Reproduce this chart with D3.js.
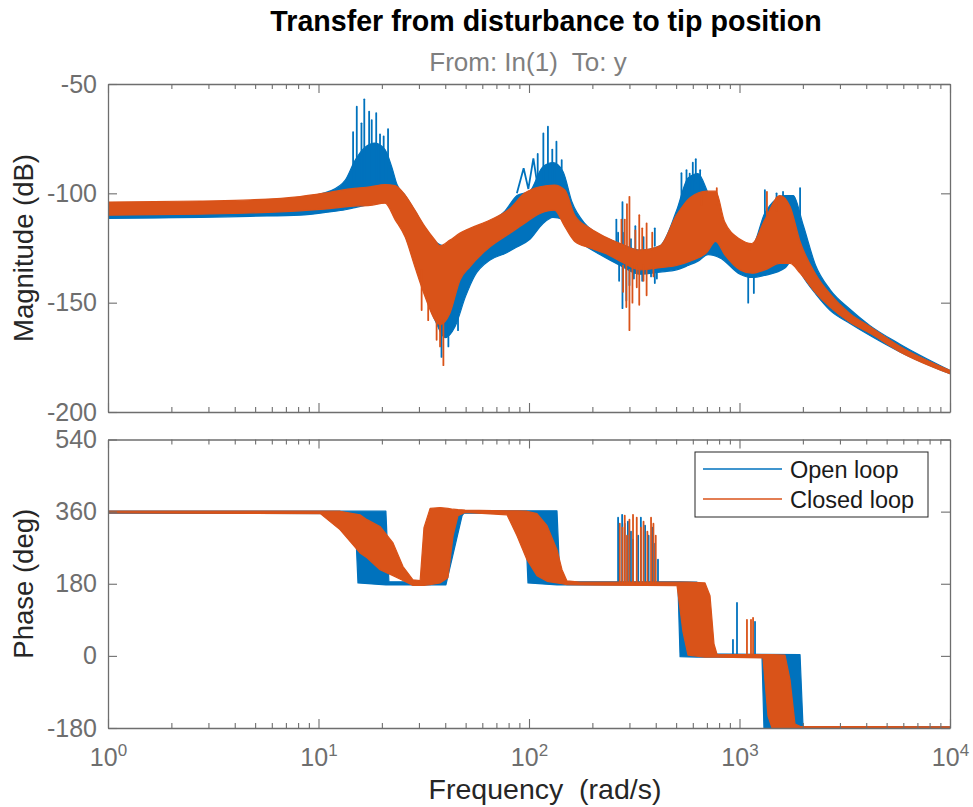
<!DOCTYPE html>
<html><head><meta charset="utf-8">
<script src="https://cdn.jsdelivr.net/npm/d3@7"></script>
<style>
html,body{margin:0;padding:0;background:#fff;}
svg{display:block;font-family:"Liberation Sans",Arial,Helvetica,sans-serif;}
</style></head>
<body>
<svg id="chart" width="973" height="807"></svg>
<script>
// ---------------- DATA ----------------
const titleText = "Transfer from disturbance to tip position";
const subtitleText = "From: In(1)  To: y";
const seriesNames = ["Open loop", "Closed loop"];
const xTickValues = [1, 10, 100, 1000, 10000];
const xTickExponents = ["0", "1", "2", "3", "4"];
const magTickValues = [-200, -150, -100, -50];
const phaseTickValues = [-180, 0, 180, 360, 540];

// Magnitude envelopes (rad/s, dB)
const openMagFreq  = [1,2.74,4.73,8.17,11.3,13.4,14.9,16.6,18.55,20.7,22.3,23.6,25.8,28.7,32.1,35.8,39.9,44.5,50,55,65.3,77,87.7,101,116,130,145,160,185,217,271,337,419,502,570,635,710,808,1006,1145,1320,1650,1800,2000,2300,2692,3350,4169,5787,10000];
const openMagUpper = [-105,-104.5,-104,-102,-99,-94,-85,-79,-77,-80,-88,-96,-101,-108,-116,-122,-124,-122,-119,-117,-113,-108,-101,-99,-88,-86,-90,-104,-114,-119,-123,-126,-124,-108,-93,-91,-100,-112,-122,-124,-109,-101,-101,-114,-133,-144,-153,-160.5,-169,-181];
const openMagLower = [-111.5,-111,-110.5,-110,-108.5,-107.5,-106.5,-105.5,-104.5,-104,-106,-110,-119,-132,-146,-158,-166,-161,-147,-138,-130.5,-127.5,-124.5,-121,-114,-111,-112,-119,-124,-128,-133,-137,-136,-135,-133,-131,-128,-129.5,-137,-138.5,-137.5,-134,-130,-138,-146,-153.5,-159.5,-165,-172.5,-182.5];

const closedMagFreq  = [1,2.74,4.73,8.17,11.3,14.1,17.6,20.7,23.1,25.8,28.7,32.1,35.8,37.8,42.1,47,52.4,65.3,81.2,95,112.8,132,148,165,195,231,271,337,419,502,582,700,770,850,1006,1145,1320,1557,1738,1939,2300,2692,3350,4169,5787,10000];
const closedMagUpper = [-104,-103.5,-103,-101.5,-99.5,-98,-97,-96,-96.5,-100.8,-107.7,-115.3,-121.4,-124,-121.4,-118.2,-116,-112.2,-106.9,-100,-97,-96.2,-98.5,-110,-116,-120,-123,-126,-124,-110,-102,-99,-99,-113,-121,-123,-112,-101,-106,-122,-137,-146,-155,-161,-170,-181];
const closedMagLower = [-110,-109.5,-109,-108,-107,-106,-105.5,-104.5,-112,-120,-133.6,-147.3,-158,-160,-154.8,-139.7,-133.6,-124.5,-118.3,-113.8,-109.2,-107.7,-115.3,-122,-125,-127.5,-131,-135,-134,-133,-131,-127,-122,-128,-135,-136.5,-135,-132,-132,-136.5,-145.5,-152,-159,-164,-172.5,-182.5];

// Lightly damped resonance bumps of the open loop (rad/s, dB)
const openBumpFreq = [87.6, 94.3, 99.3, 104.9, 110];
const openBumpMag  = [-100, -88.5, -98, -84, -97];

// Resonance / anti-resonance spikes: frequency, base dB, tip dB
const openMagSpikeFreq = [14.6,15.2,16.0,16.5,17.4,17.9,18.8,19.6,20.4,21.4, 110,117,123,129,135,143, 530,560,580,600,620,650, 1320,1500,1610,1940,
  260,265,278,283,305,320,350,396, 268,278,290,300,315,345,380,396,405, 1100,1170, 38.4,41.4,43.8,46];
const openMagSpikeBase = [-95,-95,-95,-95,-95,-95,-95,-95,-96,-97, -95,-95,-95,-95,-96,-97, -105,-100,-100,-100,-95,-98, -110,-105,-105,-110,
  -125,-125,-125,-126,-127,-126,-127,-124, -130,-130,-130,-130,-130,-130,-130,-128,-130, -133,-134, -160,-155,-150,-145];
const openMagSpikeTip  = [-72,-60.4,-68,-57,-62.7,-66.5,-63.3,-73,-74,-70.6, -82,-72.6,-69.5,-80,-76.4,-84.8, -90.8,-89.4,-91,-86,-84.4,-89.4, -98.5,-100,-99.3,-97.6,
  -112,-118,-104,-118,-121,-115,-120,-116, -140,-152.5,-149,-142,-139,-140,-138,-141,-139, -150,-145.6, -174.8,-170,-158,-162.6];

const closedMagSpikeFreq = [275,285,292,300,320,334,345,362,385, 280,290,300,310,325,334,350,362,390, 660,780,1120,1350,1500, 30.9,33.2,36.4,37.8,39.2];
const closedMagSpikeBase = [-125,-125,-125,-125,-126,-126,-126,-126,-126, -133,-133,-135,-132,-133,-135,-133,-135,-133, -105,-105,-126,-110,-108, -135,-145,-155,-158,-158];
const closedMagSpikeTip  = [-112,-112,-105,-101.6,-117,-110,-116,-113.8,-118, -145,-152,-162.6,-150,-143,-151,-140,-146.6,-138, -100.8,-97.6,-123.7,-99.3,-102, -153.4,-158,-167,-170,-178.6];

// Phase envelopes (rad/s, deg)
const openPhaseFreq  = [1,14.9,15.4,20.9,21.6,39.0,40.3,48.1,49.1,95.7,98.9,135.8,140.4,510,522,628,650,1279,1307,1939,2003,10000];
const openPhaseLower = [356,355,182,177,177,177,177,350,356,356,182,177,177,177,-2,-3,-3,-3,-182,-182,-183,-183];
const openPhaseUpper = [361,361,361,361,185,185,362,362,362,362,362,362,185,185,185,184,5,4,4,3,-176,-177];

const closedPhaseFreq  = [1,10.2,12.65,15.74,17.0,19.6,22.6,25.2,28.1,30.4,31.7,33.9,37.8,41.2,43.6,46.0,49.7,78.6,87.7,97.8,109.1,121.8,135.8,143.5,151.5,174.7,504.9,538.9,569.3,685.8,724.4,756.6,781.9,1293,1366,1427,1645,1738,1835,1939,10000];
const closedPhaseLower = [357,355,315,257,245,215,200,188,176,176,176,178,182,195,300,350,358,352,300,240,200,186,182,180,178,177,175,60,2,-3,-3,-3,-3,-5,-150,-180,-182,-182,-182,-183,-183];
const closedPhaseUpper = [361,361,361,352,340,323,282,223,190,188,320,368,370,368,366,365,364,362,362,361,355,325,265,215,187,184,184,184,184,182,150,30,4,3,3,3,2,-60,-170,-176,-177];

// Phase spikes: frequency, base deg, tip deg
const openPhaseSpikeFreq = [265,277,285,295,305,312,330,340,356,370,385,397,410, 931,973,1185];
const openPhaseSpikeBase = [180,180,180,180,180,180,180,180,180,180,180,180,180, 0,0,0];
const openPhaseSpikeTip  = [345,352,330,335,310,290,300,345,325,300,320,280,240, 40,132,85];
const closedPhaseSpikeFreq = [270,278,285,292,300,312,325,340,350,365,380,390,400, 1085,1134,1160];
const closedPhaseSpikeBase = [180,180,180,180,180,180,180,180,180,180,180,180,180, 0,0,0];
const closedPhaseSpikeTip  = [330,320,350,300,340,352,345,320,335,310,345,330,300, 90,90,95];

// ---------------- DRAWING ----------------
const colOpen = "#0072BD", colClosed = "#D95319";
const axisCol = "#6e6e6e", labelCol = "#262626";
const svg = d3.select("#chart");
const L = 108, R = 950;
const magTop = 84, magBot = 412, phTop = 439.5, phBot = 728;

const x = d3.scaleLog().domain([1, 1e4]).range([L, R]);
const yMag = d3.scaleLinear().domain([-200, -50]).range([magBot, magTop]);
const yPh = d3.scaleLinear().domain([-180, 540]).range([phBot, phTop]);

const defs = svg.append("defs");
defs.append("clipPath").attr("id", "clipMag").append("rect")
  .attr("x", L).attr("y", magTop).attr("width", R - L).attr("height", magBot - magTop);
defs.append("clipPath").attr("id", "clipPh").append("rect")
  .attr("x", L).attr("y", phTop).attr("width", R - L).attr("height", phBot - phTop);

function band(g, freq, lo, hi, y, color, curve) {
  const data = freq.map((f, i) => ({f, lo: lo[i], hi: hi[i]}));
  const area = d3.area().x(d => x(d.f)).y0(d => y(d.lo)).y1(d => y(d.hi)).curve(curve);
  g.append("path").datum(data).attr("d", area)
    .attr("fill", color).attr("stroke", color).attr("stroke-width", 1.2).attr("stroke-linejoin", "round");
}
function spikes(g, freq, base, tip, y, color) {
  const line = d3.line().x(d => x(d[0])).y(d => y(d[1]));
  freq.forEach((f, i) => {
    g.append("path").attr("d", line([[f, base[i]], [f, tip[i]]]))
      .attr("stroke", color).attr("stroke-width", 1.8).attr("fill", "none").attr("stroke-linecap", "round");
  });
}

// Magnitude panel marks
const gMag = svg.append("g").attr("clip-path", "url(#clipMag)");
band(gMag, openMagFreq, openMagLower, openMagUpper, yMag, colOpen, d3.curveMonotoneX);
spikes(gMag, openMagSpikeFreq, openMagSpikeBase, openMagSpikeTip, yMag, colOpen);
gMag.append("path").datum(openBumpFreq.map((f, i) => [f, openBumpMag[i]]))
  .attr("d", d3.line().x(d => x(d[0])).y(d => yMag(d[1])))
  .attr("fill", "none").attr("stroke", colOpen).attr("stroke-width", 1.8);
band(gMag, closedMagFreq, closedMagLower, closedMagUpper, yMag, colClosed, d3.curveMonotoneX);
spikes(gMag, closedMagSpikeFreq, closedMagSpikeBase, closedMagSpikeTip, yMag, colClosed);

// Phase panel marks
const gPh = svg.append("g").attr("clip-path", "url(#clipPh)");
band(gPh, openPhaseFreq, openPhaseLower, openPhaseUpper, yPh, colOpen, d3.curveLinear);
spikes(gPh, openPhaseSpikeFreq, openPhaseSpikeBase, openPhaseSpikeTip, yPh, colOpen);
band(gPh, closedPhaseFreq, closedPhaseLower, closedPhaseUpper, yPh, colClosed, d3.curveLinear);
spikes(gPh, closedPhaseSpikeFreq, closedPhaseSpikeBase, closedPhaseSpikeTip, yPh, colClosed);

// Axes
const minorTicks = x.ticks().filter(v => !xTickValues.includes(v));
function styleAxis(g) {
  g.selectAll("path.domain").attr("stroke", axisCol).attr("stroke-width", 1.3);
  g.selectAll(".tick line").attr("stroke", axisCol).attr("stroke-width", 1.1);
  g.selectAll("text").attr("fill", axisCol).style("font-size", "25px")
    .style("font-family", "'Liberation Sans',Arial,Helvetica,sans-serif");
}
function panelAxes(top, bot, yScale, yTicks, showX) {
  const gb = svg.append("g").attr("transform", `translate(0,${bot})`)
    .call(d3.axisBottom(x).tickValues(xTickValues).tickSizeInner(-9).tickSizeOuter(0).tickPadding(0)
      .tickFormat(() => showX ? "10" : ""));
  svg.append("g").attr("transform", `translate(0,${bot})`)
    .call(d3.axisBottom(x).tickValues(minorTicks).tickSizeInner(-5).tickSizeOuter(0).tickFormat(""))
    .call(g => { g.select(".domain").remove(); styleAxis(g); });
  styleAxis(gb);
  if (showX) {
    gb.selectAll(".tick text").each(function(d, i) {
      const t = d3.select(this);
      t.text(null).attr("y", 38).attr("dy", 0).attr("text-anchor", "middle");
      t.append("tspan").text("10");
      t.append("tspan").attr("dy", -10).style("font-size", "17px").text(xTickExponents[i]);
    });
  }
  svg.append("g").attr("transform", `translate(0,${top})`)
    .call(d3.axisTop(x).tickValues(xTickValues).tickSizeInner(-9).tickSizeOuter(0).tickFormat(""))
    .call(styleAxis);
  svg.append("g").attr("transform", `translate(0,${top})`)
    .call(d3.axisTop(x).tickValues(minorTicks).tickSizeInner(-5).tickSizeOuter(0).tickFormat(""))
    .call(g => { g.select(".domain").remove(); styleAxis(g); });
  svg.append("g").attr("transform", `translate(${L},0)`)
    .call(d3.axisLeft(yScale).tickValues(yTicks).tickSizeInner(-9).tickSizeOuter(0).tickPadding(11)
      .tickFormat(d => String(d)))
    .call(styleAxis);
  svg.append("g").attr("transform", `translate(${R},0)`)
    .call(d3.axisRight(yScale).tickValues(yTicks).tickSizeInner(-9).tickSizeOuter(0).tickFormat(""))
    .call(styleAxis);
}
panelAxes(magTop, magBot, yMag, magTickValues, false);
panelAxes(phTop, phBot, yPh, phaseTickValues, true);

// Titles and labels
svg.append("text").attr("x", 546).attr("y", 31).attr("text-anchor", "middle")
  .style("font-size", "28.6px").style("font-weight", "bold").attr("fill", "#000").text(titleText);
svg.append("text").attr("x", 528).attr("y", 71).attr("text-anchor", "middle").style("white-space", "pre")
  .style("font-size", "26px").attr("fill", "#7f7f7f").text(subtitleText);
svg.append("text").attr("transform", `translate(33,${(magTop + magBot) / 2}) rotate(-90)`)
  .attr("text-anchor", "middle").style("font-size", "27.5px").attr("fill", labelCol).text("Magnitude (dB)");
svg.append("text").attr("transform", `translate(33,${(phTop + phBot) / 2}) rotate(-90)`)
  .attr("text-anchor", "middle").style("font-size", "27.5px").attr("fill", labelCol).text("Phase (deg)");
svg.append("text").attr("x", 545).attr("y", 799).attr("text-anchor", "middle").style("white-space", "pre")
  .style("font-size", "28.5px").attr("fill", labelCol).text("Frequency  (rad/s)");

// Legend
const lg = svg.append("g");
lg.append("rect").attr("x", 695).attr("y", 452).attr("width", 233).attr("height", 65)
  .attr("fill", "#fff").attr("stroke", "#262626").attr("stroke-width", 1);
[colOpen, colClosed].forEach((c, i) => {
  const yy = 469 + i * 30;
  lg.append("line").attr("x1", 703).attr("x2", 782).attr("y1", yy).attr("y2", yy)
    .attr("stroke", c).attr("stroke-width", 2.2).attr("stroke-opacity", 0.75);
  lg.append("text").attr("x", 790).attr("y", yy + 8.5).style("font-size", "23.5px")
    .attr("fill", "#1a1a1a").text(seriesNames[i]);
});
</script>
</body></html>
